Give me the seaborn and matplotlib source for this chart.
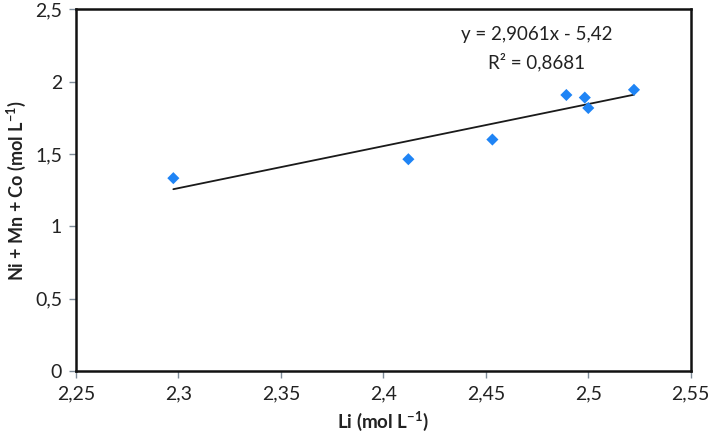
import numpy as np
import pandas as pd
import seaborn as sns
import matplotlib
matplotlib.use("Agg")
import matplotlib.pyplot as plt
from matplotlib.ticker import FuncFormatter

# data
li = [2.2975, 2.4122, 2.4532, 2.4893, 2.4983, 2.5000, 2.5223]
nmc = [1.333, 1.464, 1.600, 1.908, 1.890, 1.818, 1.944]
slope = 2.9061
intercept = -5.42
r2 = 0.8681

x_ticks = [2.25, 2.3, 2.35, 2.4, 2.45, 2.5, 2.55]
y_ticks = [0, 0.5, 1, 1.5, 2, 2.5]

sns.set_style("white")
plt.rcParams['font.family'] = ['Lato', 'DejaVu Sans']
plt.rcParams['mathtext.fontset'] = 'custom'
plt.rcParams['mathtext.rm'] = 'Lato'
plt.rcParams['mathtext.bf'] = 'Lato:bold'
plt.rcParams['mathtext.default'] = 'bf'

df = pd.DataFrame({'Li': li, 'NMC': nmc})

fig = plt.figure(figsize=(7.11, 4.45), dpi=100)
ax = fig.add_axes([0.1069, 0.1663, 0.8646, 0.8127])

sns.scatterplot(data=df, x='Li', y='NMC', marker='D', s=38,
                color='#1f84f5', edgecolor='none', ax=ax, zorder=3)

# trendline from the stated fit
xs = np.array([min(li), max(li)])
sns.lineplot(x=xs, y=slope * xs + intercept, color='#1a1a1a', lw=1.3, ax=ax, zorder=2)

ax.set_xlim(2.25, 2.55)
ax.set_ylim(0, 2.5)
ax.set_xticks(x_ticks)
ax.set_yticks(y_ticks)

def comma(v, pos):
    s = f"{v:g}"
    return s.replace('.', ',')

ax.xaxis.set_major_formatter(FuncFormatter(comma))
ax.yaxis.set_major_formatter(FuncFormatter(comma))
ax.tick_params(axis='both', which='major', direction='out', length=5, width=1,
               color='#7f8c99', labelsize=14, labelcolor='#222222',
               bottom=True, left=True, pad=5)

for sp in ax.spines.values():
    sp.set_color('#111111')
    sp.set_linewidth(1.8)

ax.set_xlabel('Li (mol L$^{-1}$)', fontsize=13.5, fontweight='bold', labelpad=6,
              color='#222222')
ax.set_ylabel('Ni + Mn + Co (mol L$^{-1}$)', fontsize=13, fontweight='bold', labelpad=5,
              color='#222222')

ax.text(0.749, 0.955, f"y = {slope:.4f}x - {abs(intercept):.2f}".replace('.', ','),
        transform=ax.transAxes, ha='center', va='top', fontsize=13.5, color='#222222')
ax.text(0.749, 0.88, f"R² = {r2:.4f}".replace('.', ','),
        transform=ax.transAxes, ha='center', va='top', fontsize=13.5, color='#222222')

fig.savefig('out.png', dpi=100)
